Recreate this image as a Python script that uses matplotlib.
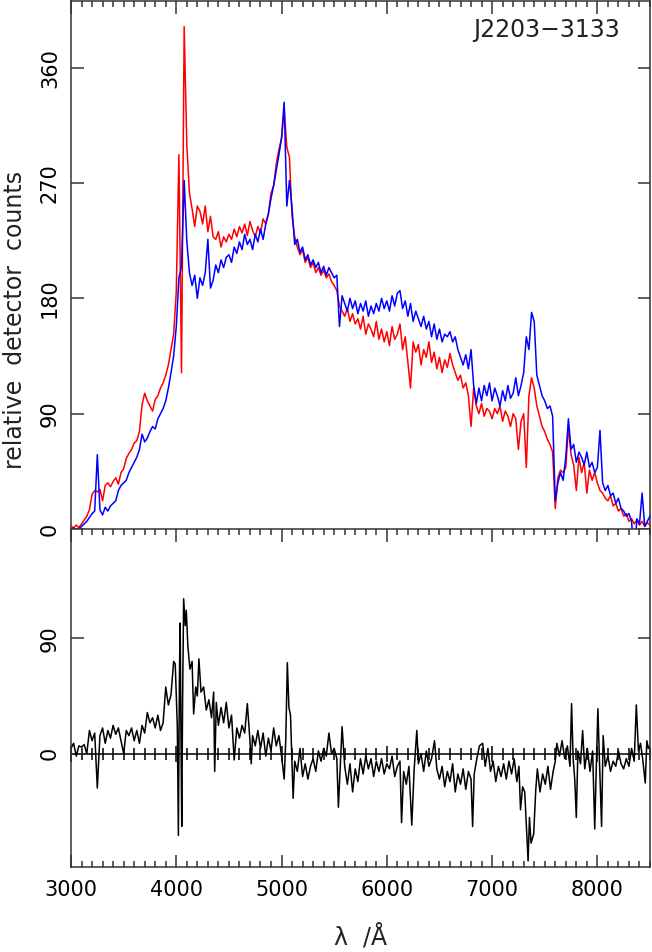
import numpy as np
import matplotlib
matplotlib.use("Agg")
import matplotlib.pyplot as plt
from matplotlib.ticker import MultipleLocator

# wavelength grid of the two observed spectra (Angstrom)
wave = np.arange(3000, 8525, 25)

red_flux = [
    2, 1, 3, 1, 4, 7, 10, 15, 27, 30, 29, 31, 22, 34, 36, 33, 37, 40, 35, 44,
    47, 55, 59, 62, 67, 69, 76, 97, 106, 100, 96, 92, 101, 104, 110, 114, 120, 128, 140, 152,
    185, 292, 122, 392, 300, 262, 250, 236, 252, 248, 238, 252, 232, 244, 228, 226, 232, 220, 228, 224,
    230, 226, 234, 228, 236, 231, 238, 229, 240, 233, 228, 236, 231, 242, 238, 246, 262, 268, 285, 296,
    305, 328, 298, 290, 244, 228, 220, 214, 218, 208, 212, 204, 208, 200, 204, 198, 202, 196, 199, 193,
    190, 186, 174, 170, 166, 172, 162, 168, 160, 164, 156, 166, 152, 160, 156, 150, 162, 148, 156, 146,
    154, 143, 158, 148, 152, 160, 140, 150, 130, 110, 146, 138, 144, 128, 140, 134, 146, 130, 138, 125,
    134, 122, 132, 126, 137, 128, 122, 116, 120, 110, 114, 104, 80, 110, 96, 90, 98, 88, 94, 92,
    86, 94, 90, 96, 84, 92, 88, 80, 90, 86, 62, 84, 90, 48, 104, 118, 110, 96, 88, 80,
    76, 70, 66, 60, 16, 40, 46, 44, 48, 80, 58, 50, 30, 56, 44, 52, 28, 46, 38, 44,
    36, 30, 28, 24, 22, 26, 18, 20, 14, 16, 10, 12, 6, 8, 4, 7, 3, 6, 2, 5, 3,
]

blue_flux = [
    -2, 1, -3, 0, 2, 4, 6, 9, 12, 14, 58, 15, 11, 17, 14, 18, 20, 22, 30, 34,
    36, 38, 44, 48, 52, 56, 62, 74, 68, 71, 76, 80, 78, 86, 90, 94, 100, 110, 122, 135,
    158, 196, 205, 272, 225, 200, 190, 198, 180, 196, 190, 200, 226, 188, 194, 206, 200, 210, 204, 212,
    214, 208, 220, 215, 224, 218, 230, 222, 226, 218, 230, 224, 234, 226, 238, 246, 258, 268, 280, 292,
    305, 333, 252, 272, 250, 222, 226, 216, 220, 210, 214, 206, 210, 204, 208, 200, 205, 198, 204, 200,
    196, 198, 158, 182, 176, 170, 180, 172, 178, 168, 176, 170, 178, 166, 174, 168, 176, 170, 180, 172,
    178, 170, 182, 174, 184, 186, 172, 178, 166, 176, 162, 170, 164, 158, 166, 156, 162, 150, 160, 148,
    156, 146, 152, 150, 154, 146, 150, 140, 134, 128, 136, 125, 140, 112, 98, 110, 100, 112, 104, 114,
    100, 110, 104, 96, 108, 100, 112, 102, 106, 118, 104, 112, 122, 150, 140, 169, 162, 120, 112, 104,
    100, 94, 96, 88, 22, 36, 44, 38, 56, 86, 62, 66, 52, 60, 56, 50, 60, 48, 52, 44,
    48, 77, 36, 30, 34, 26, 28, 20, 24, 16, 14, 10, 12, 6, -24, 8, 4, 28, 2, 6, 10,
]

# difference spectrum (lower panel)
diff_wave = [
    3000, 3025, 3050, 3075, 3100, 3125, 3150, 3175, 3200, 3225, 3250, 3275, 3300, 3325, 3350,
    3375, 3400, 3425, 3450, 3475, 3500, 3525, 3550, 3575, 3600, 3625, 3650, 3675, 3700, 3725,
    3750, 3775, 3800, 3825, 3850, 3875, 3900, 3925, 3950, 3975, 3990, 4010, 4020, 4030, 4037,
    4045, 4052, 4060, 4070, 4085, 4095, 4110, 4130, 4150, 4165, 4185, 4200, 4215, 4235, 4260,
    4285, 4310, 4335, 4355, 4365, 4380, 4400, 4425, 4450, 4475, 4500, 4525, 4550, 4575, 4600,
    4625, 4650, 4675, 4700, 4712, 4725, 4750, 4775, 4800, 4825, 4850, 4875, 4900, 4925, 4950,
    4975, 5000, 5025, 5040, 5055, 5070, 5085, 5100, 5110, 5125, 5150, 5175, 5200, 5225, 5250,
    5275, 5300, 5325, 5350, 5375, 5400, 5425, 5450, 5475, 5500, 5525, 5540, 5560, 5575, 5600,
    5625, 5650, 5675, 5700, 5725, 5750, 5775, 5800, 5825, 5850, 5875, 5900, 5925, 5950, 5975,
    6000, 6025, 6050, 6075, 6100, 6125, 6140, 6160, 6185, 6210, 6237, 6260, 6285, 6300, 6325,
    6350, 6375, 6400, 6425, 6453, 6475, 6500, 6525, 6550, 6575, 6600, 6625, 6650, 6675, 6700,
    6725, 6750, 6775, 6800, 6815, 6830, 6855, 6880, 6910, 6935, 6960, 6985, 7010, 7035, 7060,
    7085, 7110, 7135, 7160, 7185, 7210, 7235, 7255, 7270, 7290, 7310, 7330, 7342, 7355, 7370,
    7395, 7415, 7430, 7455, 7480, 7505, 7530, 7555, 7580, 7600, 7615, 7640, 7665, 7690, 7715,
    7740, 7755, 7770, 7785, 7800, 7815, 7840, 7860, 7880, 7905, 7930, 7955, 7975, 7990, 8005,
    8020, 8040, 8055, 8075, 8100, 8125, 8150, 8175, 8200, 8225, 8250, 8275, 8300, 8325, 8350,
    8370, 8390, 8410, 8430, 8455, 8470, 8485, 8500,
]

diff_flux = [
    4, 8, -2, 6, 5, 7, 0, 18, 10, 16, -27, 14, 20, 8, 18,
    12, 22, 15, 20, 10, 0, 18, 14, 20, 10, 18, 8, 22, 16, 32,
    24, 28, 20, 30, 18, 24, 52, 38, 46, 72, 70, 21, -64, 60, 102,
    10, -57, 40, 121, 100, 112, 84, 66, 72, 31, 52, 45, 74, 48, 52,
    34, 42, 28, 48, -14, 40, 22, 36, 24, 40, 20, 30, -5, 20, 12,
    22, 16, 39, 10, -8, 14, 6, 18, 4, 16, -2, 12, 2, 20, 6,
    14, -2, -20, 10, 71, 36, 30, -10, -35, -6, -14, 4, -18, -8, -20,
    -10, -4, -14, 2, -6, 4, -2, 16, 0, 4, -4, -42, -6, 21, -10,
    -24, -8, -30, -12, -22, -4, -16, -2, -12, -4, -18, -6, -14, -4, -16,
    -8, -12, -2, -18, -10, -6, -54, -14, -24, -10, -56, -12, 18, -8, 0,
    -14, 2, -10, -4, 10, -12, -20, -10, -26, -14, -22, -8, -30, -16, -24,
    -12, -28, -14, -20, -57, -16, -4, 6, 8, -10, 4, -14, -6, -22, -10,
    -18, -8, -20, -6, -16, -4, -22, -10, -44, -26, -30, -63, -84, -50, -70,
    -63, -28, -12, -30, -16, -24, -10, -28, -14, -6, 8, -2, 10, -4, 6,
    -10, 39, -4, -20, -50, 2, -8, 18, -12, 4, -14, 2, -59, -10, 35,
    -6, -57, 14, -10, -2, -14, -6, -10, 2, -8, -12, -4, -10, 4, -6,
    38, 2, 8, -4, -23, 10, 4, 6,
]

object_name = "J2203\u22123133"

W, H = 652, 952
fig = plt.figure(figsize=(W / 100, H / 100), dpi=100)
plt.rcParams['font.family'] = ['DejaVu Sans']
fs = 15
fs_text = 17

left = 71 / W
width = 579 / W
ax1 = fig.add_axes([left, (H - 529) / H, width, 528 / H])
ax2 = fig.add_axes([left, (H - 867) / H, width, 338 / H])

ax1.plot(wave, red_flux, color='#ff0000', lw=1.1, clip_on=False, zorder=3)
ax1.plot(wave, blue_flux, color='#0000ff', lw=1.1, clip_on=False, zorder=4)
ax2.plot(diff_wave, diff_flux, color='black', lw=1.1)

ax1.set_xlim(3000, 8500)
ax2.set_xlim(3000, 8500)
ax1.set_ylim(0, 412)
ax2.set_ylim(-88.7, 175.5)

for ax in (ax1, ax2):
    for sp in ax.spines.values():
        sp.set_linewidth(1.1)
        sp.set_color('#333333')
    ax.xaxis.set_major_locator(MultipleLocator(1000))
    ax.xaxis.set_minor_locator(MultipleLocator(100))
    ax.yaxis.set_major_locator(MultipleLocator(90))
    ax.tick_params(which='both', direction='in', top=True, right=True,
                   color='#333333', width=1.1)
    ax.tick_params(which='major', length=9)
    ax.tick_params(which='minor', length=4.5)
    ax.tick_params(axis='y', which='minor', left=False, right=False)
    ax.tick_params(axis='y', labelsize=fs, labelrotation=90, pad=8)
    for lab in ax.get_yticklabels():
        lab.set_va('center')

ax1.spines['bottom'].set_visible(False)
ax1.tick_params(axis='x', which='both', bottom=False, labelbottom=False)
ax2.tick_params(axis='x', labelsize=fs, pad=9)
ax2.set_yticks([0, 90])

# zero line of the difference panel with ticks crossing it
zero_frac = 88.7 / (88.7 + 175.5)
sec = ax2.secondary_xaxis(zero_frac)
sec.xaxis.set_major_locator(MultipleLocator(1000))
sec.xaxis.set_minor_locator(MultipleLocator(100))
sec.tick_params(which='both', direction='inout', labelbottom=False, color='black', width=1.1)
sec.tick_params(which='major', length=11)
sec.tick_params(which='minor', length=9)
sec.spines['bottom'].set_linewidth(1.1)

fig.text(620 / W, 1 - 30 / H, object_name, ha='right', va='center', fontsize=fs_text, color='#222222')
fig.text(15 / W, 1 - 320 / H, 'relative  detector  counts', rotation=90,
         ha='center', va='center', fontsize=fs_text, color='#222222')
fig.text(360 / W, 1 - 937 / H, '\u03bb  /\u00c5', ha='center', va='center', fontsize=fs_text, color='#222222')

fig.savefig('out.png', dpi=100)
